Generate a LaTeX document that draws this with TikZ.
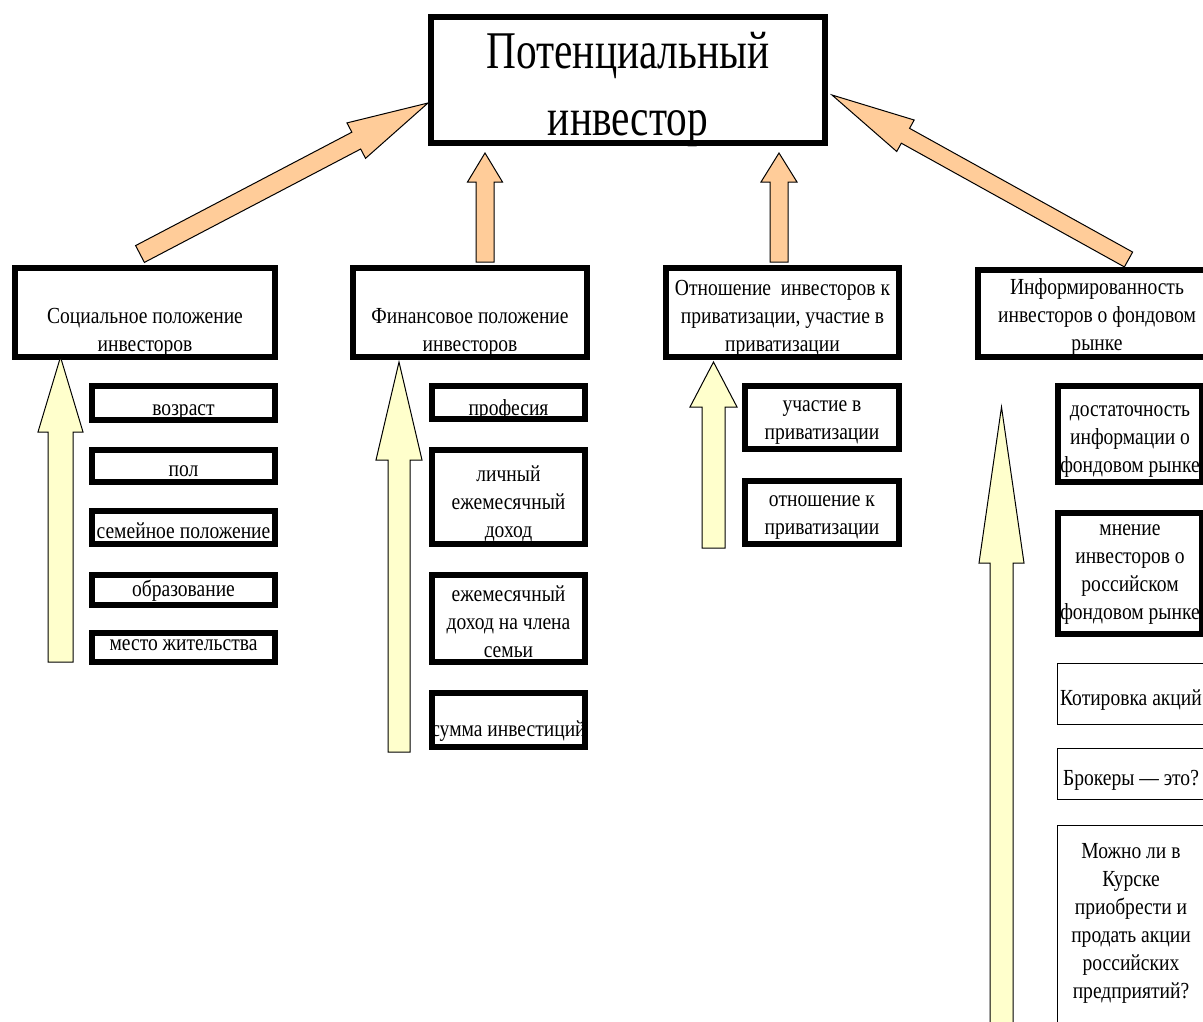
\documentclass[tikz,border=0pt]{standalone}
\usepackage{fontspec}
\setmainfont{Liberation Serif}[FakeStretch=0.85]
\newfontfamily\titlefont{Liberation Serif}[FakeStretch=0.78]
\usetikzlibrary{calc}
\definecolor{arrorange}{HTML}{FFCC99}
\definecolor{arryellow}{HTML}{FFFFCC}
\tikzset{
  thickbox/.style={draw=black, line width=6pt, inner sep=0pt, outer sep=0pt, fill=white},
  thinbox/.style={draw=black, line width=1.3pt, inner sep=0pt, outer sep=0pt, fill=white},
  txt/.style={font=\fontsize{23}{28}\selectfont, align=center, inner sep=0pt,
    execute at begin node=\strut, execute at end node=\strut},
  titletxt/.style={font=\titlefont\fontsize{53}{67}\selectfont, align=center, inner sep=0pt,
    execute at begin node=\strut, execute at end node=\strut},
  orangearrow/.style={draw=black, line width=1pt, fill=arrorange, line join=miter},
  yellowarrow/.style={draw=black, line width=1pt, fill=arryellow, line join=miter},
}
% #1 style, #2 tail, #3 tip, #4 shaft half width, #5 head half width, #6 head length
\newcommand\blockarrow[6]{%
  \coordinate (#2h) at ($(#3)!#6!(#2)$);
  \draw[#1] ($(#2)!#4!90:(#3)$) -- ($(#2h)!#4!90:(#3)$) -- ($(#2h)!#5!90:(#3)$) -- (#3)
    -- ($(#2h)!#5!-90:(#3)$) -- ($(#2h)!#4!-90:(#3)$) -- ($(#2)!#4!-90:(#3)$) -- cycle;
}
\begin{document}
\begin{tikzpicture}[x=1pt, y=-1pt]
\path[use as bounding box] (0,0) rectangle (1203,1021);
\clip (0,0) rectangle (1203,1021);
\fill[white] (0,0) rectangle (1203,1021);

% main box
\node[thickbox, minimum width=394pt, minimum height=126pt] (main) at (628,80) {};
\node[titletxt] (tmain) at (628,94) {Потенциальный\\инвестор};

% category boxes
\node[thickbox, minimum width=260pt, minimum height=89pt] (b1) at (145,312.5) {};
\node[thickbox, minimum width=234pt, minimum height=89pt] (b2) at (470,312.5) {};
\node[thickbox, minimum width=233pt, minimum height=89pt] (b3) at (782.5,312.5) {};
\node[thickbox, minimum width=238pt, minimum height=87pt] (b4) at (1097,313.5) {};
\node[txt] (tb1) at (145,333.9) {Социальное положение\\инвесторов};
\node[txt] (tb2) at (470,333.9) {Финансовое положение\\инвесторов};
\node[txt] (tb3) at (782.5,319.9) {Отношение~ инвесторов к\\приватизации, участие в\\приватизации};
\node[txt] (tb4) at (1097,318.4) {Информированность\\инвесторов о фондовом\\рынке};

% social
\node[thickbox, minimum width=183pt, minimum height=34pt] (s1) at (183.5,403) {};
\node[thickbox, minimum width=183pt, minimum height=32pt] (s2) at (183.5,466) {};
\node[thickbox, minimum width=183pt, minimum height=33pt] (s3) at (183.5,527.5) {};
\node[thickbox, minimum width=183pt, minimum height=30pt] (s4) at (183.5,590) {};
\node[thickbox, minimum width=183pt, minimum height=29pt] (s5) at (183.5,647.5) {};
\node[txt] (ts1) at (183.5,409.4) {возраст};
\node[txt] (ts2) at (183.5,470.4) {пол};
\node[txt] (ts3) at (183.5,532.4) {семейное положение};
\node[txt] (ts4) at (183.5,590.4) {образование};
\node[txt] (ts5) at (183.5,644.4) {место жительства};

% finance
\node[thickbox, minimum width=153pt, minimum height=33pt] (f1) at (508.5,402.5) {};
\node[thickbox, minimum width=153pt, minimum height=94pt] (f2) at (508.5,497) {};
\node[thickbox, minimum width=153pt, minimum height=87pt] (f3) at (508.5,618.5) {};
\node[thickbox, minimum width=153pt, minimum height=54pt] (f4) at (508.5,720) {};
\node[txt] (tf1) at (508.5,409.4) {професия};
\node[txt] (tf2) at (508.5,505.4) {личный\\ежемесячный\\доход};
\node[txt] (tf3) at (508.5,625.4) {ежемесячный\\доход на члена\\семьи};
\node[txt] (tf4) at (508.5,730.4) {сумма инвестиций};

% privatisation
\node[thickbox, minimum width=154pt, minimum height=63pt] (o1) at (822,417.5) {};
\node[thickbox, minimum width=154pt, minimum height=63pt] (o2) at (822,512.5) {};
\node[txt] (to1) at (822,424.4) {участие в\\приватизации};
\node[txt] (to2) at (822,519.4) {отношение к\\приватизации};

% information
\node[thickbox, minimum width=144pt, minimum height=96pt] (i1) at (1130,434) {};
\node[thickbox, minimum width=144pt, minimum height=121pt] (i2) at (1130,573.5) {};
\node[thinbox, minimum width=146.7pt, minimum height=60.7pt] (i3) at (1131,694) {};
\node[thinbox, minimum width=146.7pt, minimum height=50.7pt] (i4) at (1131,774) {};
\node[thinbox, minimum width=146.7pt, minimum height=213.7pt] (i5) at (1131,932.5) {};
\node[txt] (ti1) at (1130,443.4) {достаточность\\информации о\\фондовом рынке};
\node[txt] (ti2) at (1130,576.4) {мнение\\инвесторов о\\российском\\фондовом рынке};
\node[txt] (ti3) at (1131,699.4) {Котировка акций};
\node[txt] (ti4) at (1131,779.4) {Брокеры — это?};
\node[txt] (ti5) at (1131,925.4) {Можно ли в\\Курске\\приобрести и\\продать акции\\российских\\предприятий?};

% orange arrows to main box
\coordinate (oa) at (140,254);   \coordinate (oA) at (428,103);
\coordinate (ob) at (485,262);   \coordinate (oB) at (485,153);
\coordinate (oc) at (779,262);   \coordinate (oC) at (779,153);
\coordinate (od) at (1128.5,259.5); \coordinate (oD) at (832,95);
\blockarrow{orangearrow}{oa}{oA}{9.5pt}{20pt}{81pt}
\blockarrow{orangearrow}{ob}{oB}{9pt}{17.5pt}{29pt}
\blockarrow{orangearrow}{oc}{oC}{9pt}{18pt}{29pt}
\blockarrow{orangearrow}{od}{oD}{8.5pt}{18pt}{84pt}

% yellow arrows to category boxes
\coordinate (ya) at (60.5,662);  \coordinate (yA) at (60.5,357);
\coordinate (yb) at (399,752);   \coordinate (yB) at (399,362);
\coordinate (yc) at (713.5,548); \coordinate (yC) at (713.5,362);
\coordinate (yd) at (1001.5,1040); \coordinate (yD) at (1001.5,407);
\blockarrow{yellowarrow}{ya}{yA}{12.5pt}{22.5pt}{75pt}
\blockarrow{yellowarrow}{yb}{yB}{11pt}{23pt}{98pt}
\blockarrow{yellowarrow}{yc}{yC}{11.5pt}{23.5pt}{45pt}
\blockarrow{yellowarrow}{yd}{yD}{11.5pt}{22.5pt}{156pt}
\end{tikzpicture}
\end{document}
